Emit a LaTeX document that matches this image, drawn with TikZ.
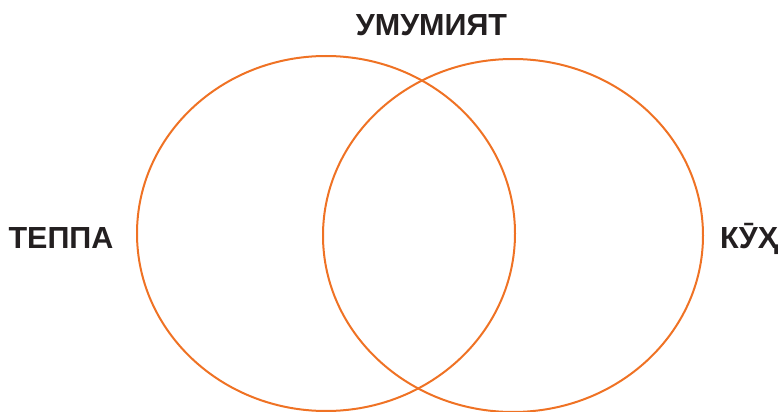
\documentclass[tikz,border=0pt]{standalone}
\usepackage{fontspec}
\setmainfont{Liberation Sans}
\usetikzlibrary{shapes.geometric}
\definecolor{ringorange}{HTML}{EF7224}
\definecolor{labelgray}{HTML}{231F20}
\tikzset{
  ring/.style={draw=ringorange, line width=2pt, ellipse, inner sep=0pt},
  setlabel/.style={text=labelgray, font=\fontsize{30.5}{36}\selectfont\bfseries, inner sep=0pt}
}
\begin{document}
\begin{tikzpicture}[x=1pt, y=-1pt]
\useasboundingbox (0,0) rectangle (780,412);

% Sets (ellipses placed manually)
\node[ring, minimum width=378pt, minimum height=355pt] (HILL) at (326,233.5) {};
\node[ring, minimum width=380pt, minimum height=353pt] (MOUNT) at (513,235.5) {};

% Labels
\node[setlabel, anchor=base] (COMMON) at (431.5,36) {УМУМИЯТ};
\node[setlabel, anchor=base] (HILLL) at (61,248) {ТЕППА};
\node[setlabel, anchor=base west] (MOUNTL) at (720,248) {КӮҲ};

\end{tikzpicture}
\end{document}
